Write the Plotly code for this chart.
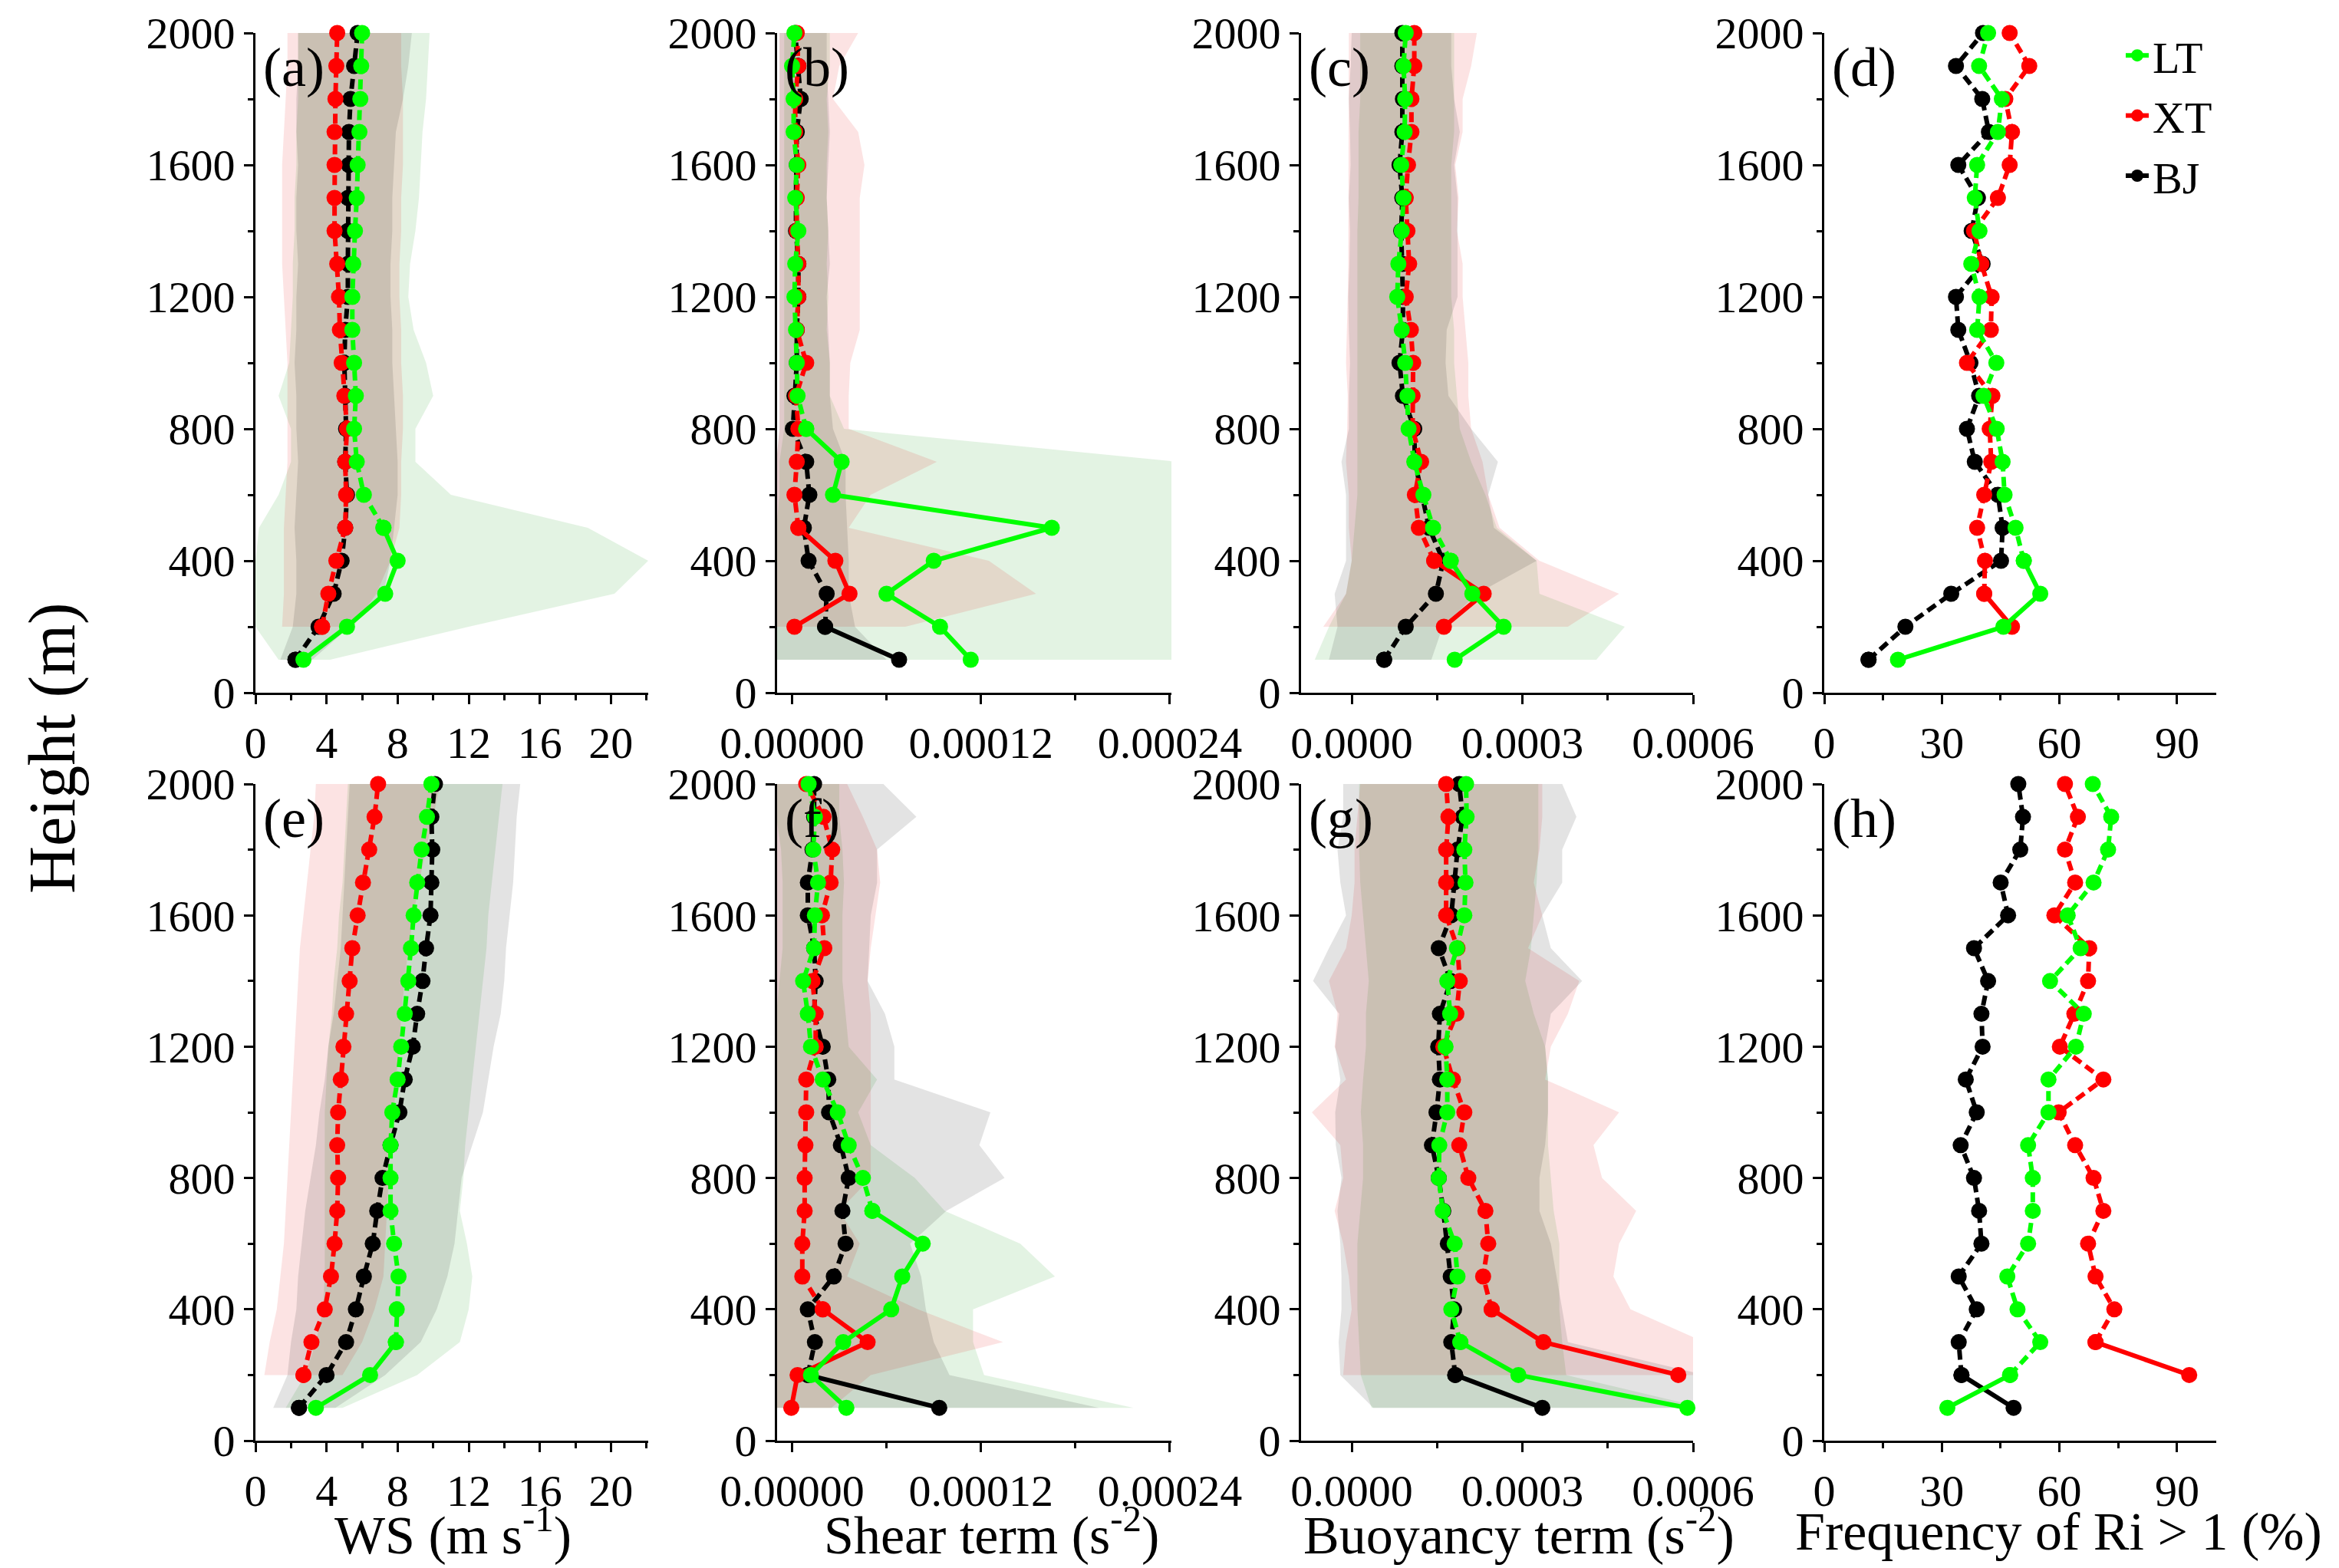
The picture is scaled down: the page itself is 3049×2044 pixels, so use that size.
import plotly.graph_objects as go

# heights of the profile levels (m)
HEIGHT = list(range(100, 2001, 100))

# ---- (a) wind speed, clean days (m/s)
A_LT = [2.7, 5.15, 7.3, 8.0, 7.2, 6.1, 5.7, 5.55, 5.65, 5.55, 5.45, 5.45, 5.5, 5.6, 5.7, 5.75, 5.85, 5.9, 5.95, 6.0]
A_XT = [None, 3.75, 4.1, 4.55, 5.05, 5.1, 5.05, 5.15, 5.0, 4.85, 4.75, 4.7, 4.6, 4.45, 4.45, 4.45, 4.45, 4.5, 4.55, 4.6]
A_BJ = [2.25, 3.55, 4.4, 4.85, 5.05, 5.15, 5.05, 5.1, 5.05, 5.0, 5.05, 5.2, 5.2, 5.2, 5.2, 5.25, 5.26, 5.35, 5.55, 5.75]
A_LT_LO = [1.3, 0.0, 0.0, 0.0, 0.2, 1.3, 2.0, 2.0, 1.3, 1.9, 2.0, 2.1, 2.1, 2.2, 2.2, 2.3, 2.3, 2.4, 2.4, 2.4]
A_LT_HI = [4.2, 12.0, 20.2, 22.1, 18.7, 11.0, 9.0, 9.0, 10.0, 9.6, 8.9, 8.6, 8.7, 9.0, 9.2, 9.3, 9.4, 9.6, 9.7, 9.8]
A_XT_LO = [None, 1.5, 1.6, 1.6, 1.6, 1.7, 1.8, 1.8, 1.8, 1.8, 1.7, 1.6, 1.5, 1.5, 1.5, 1.5, 1.6, 1.7, 1.8, 1.8]
A_XT_HI = [None, 5.5, 6.8, 7.6, 8.1, 8.2, 8.2, 8.3, 8.3, 8.2, 8.2, 8.1, 8.1, 8.2, 8.2, 8.3, 8.3, 8.3, 8.2, 8.2]
A_BJ_LO = [1.4, 2.1, 2.3, 2.3, 2.2, 2.3, 2.4, 2.3, 2.3, 2.2, 2.3, 2.3, 2.4, 2.3, 2.3, 2.4, 2.3, 2.3, 2.4, 2.4]
A_BJ_HI = [3.2, 5.3, 7.2, 7.6, 7.8, 8.0, 8.0, 7.9, 7.8, 7.7, 7.7, 7.6, 7.6, 7.7, 7.7, 7.8, 7.9, 8.3, 8.6, 8.8]

# ---- (b) shear term (1e-5 s^-2)
B_LT = [11.35, 9.4, 6.0, 9.0, 16.5, 2.6, 3.15, 0.9, 0.35, 0.3, 0.25, 0.15, 0.2, 0.4, 0.2, 0.3, 0.1, 0.1, 0.0, 0.15]
B_XT = [None, 0.15, 3.65, 2.75, 0.4, 0.15, 0.3, 0.4, 0.25, 0.9, 0.3, 0.4, 0.4, 0.3, 0.3, 0.4, 0.2, 0.2, 0.4, 0.3]
B_BJ = [6.8, 2.1, 2.2, 1.05, 0.75, 1.1, 0.9, 0.05, 0.15, 0.3, 0.3, 0.4, 0.4, 0.25, 0.25, 0.3, 0.3, 0.55, 0.4, 0.2]
B_LT_LO = [-1.5, -1.5, -1.0, -1.0, -1.0, -0.8, -0.8, -0.5, -0.5, -0.5, -0.5, -0.5, -0.5, -0.5, -0.5, -0.5, -0.5, -0.5, -0.5, -0.5]
B_LT_HI = [24.5, 24.5, 24.5, 24.5, 24.5, 24.5, 24.5, 3.3, 2.4, 2.4, 2.2, 2.3, 2.2, 2.3, 2.2, 2.2, 2.3, 2.2, 2.4, 2.4]
B_XT_LO = [None, -1.5, -1.2, -1.0, -1.0, -1.0, -1.0, -0.8, -0.8, -0.8, -0.8, -0.8, -0.8, -0.8, -0.8, -0.8, -0.8, -0.8, -0.8, -0.8]
B_XT_HI = [None, 7.2, 15.5, 12.5, 3.6, 5.0, 9.2, 3.6, 3.6, 3.7, 4.3, 4.3, 4.3, 4.3, 4.3, 4.6, 4.2, 2.6, 3.0, 4.2]
B_BJ_LO = [-1.5, -1.5, -1.2, -1.0, -1.0, -1.0, -1.0, -0.8, -0.8, -0.8, -0.8, -0.8, -0.8, -0.8, -0.8, -0.8, -0.8, -0.8, -0.8, -0.8]
B_BJ_HI = [6.0, 4.0, 3.6, 3.6, 3.5, 3.4, 3.4, 2.6, 2.4, 2.4, 2.3, 2.2, 2.4, 2.3, 2.2, 2.3, 2.4, 2.3, 2.2, 2.2]

# ---- (c) buoyancy term (1e-5 s^-2)
C_LT = [18.1, 26.7, 21.2, 17.4, 14.3, 12.6, 11.0, 10.0, 9.8, 9.4, 8.8, 8.0, 8.2, 8.8, 9.1, 8.7, 9.3, 9.4, 9.1, 9.5]
C_XT = [None, 16.2, 23.2, 14.5, 11.8, 11.1, 12.2, 10.7, 10.7, 10.8, 10.4, 9.5, 10.1, 9.8, 9.5, 9.9, 10.5, 10.5, 11.0, 11.0]
C_BJ = [5.7, 9.5, 14.8, 16.1, 13.6, 12.4, 11.1, 11.0, 9.0, 8.4, 9.0, 9.0, 8.9, 8.7, 8.9, 8.4, 8.9, 9.0, 8.9, 8.9]
C_LT_LO = [-6.5, -4.0, -1.0, 0.0, 0.5, 1.0, 1.0, 1.0, 1.0, 1.0, 1.0, 1.0, 1.0, 1.0, 1.2, 1.2, 1.2, 1.5, 1.5, 1.5]
C_LT_HI = [43.0, 48.0, 33.0, 32.5, 25.5, 23.5, 21.0, 19.0, 18.5, 18.0, 18.0, 17.5, 17.5, 17.5, 17.5, 17.5, 18.0, 18.0, 18.0, 18.0]
C_XT_LO = [None, -5.0, -1.0, 0.0, -0.5, -0.5, -1.0, -0.8, -0.7, -1.0, -0.8, -0.7, -0.6, -0.6, -0.5, -0.5, -0.6, -0.5, -0.5, -0.5]
C_XT_HI = [None, 38.0, 47.0, 33.0, 26.0, 24.0, 23.0, 21.0, 20.5, 20.5, 20.0, 19.5, 19.5, 18.5, 18.8, 18.2, 19.5, 19.5, 21.0, 22.0]
C_BJ_LO = [-4.0, -2.5, -3.0, -1.0, -1.0, -1.0, -1.8, -0.5, -0.5, -0.3, -0.5, -0.6, -0.4, -0.3, -0.5, -0.2, -0.3, -0.5, -0.2, 0.0]
C_BJ_HI = [14.0, 16.0, 22.0, 32.5, 25.0, 24.0, 25.7, 21.0, 17.0, 16.5, 16.7, 18.6, 18.6, 18.6, 18.6, 18.0, 19.0, 18.0, 17.5, 17.5]

# ---- (d) frequency of Ri > 1 (%)
D_LT = [18.8, 45.7, 55.1, 50.9, 48.8, 46.0, 45.5, 44.0, 40.6, 43.9, 39.0, 39.6, 37.5, 39.6, 38.4, 39.0, 44.3, 45.3, 39.5, 41.8]
D_XT = [None, 47.9, 40.8, 41.0, 39.0, 40.8, 42.6, 42.2, 42.9, 36.4, 42.5, 42.7, 40.1, 38.2, 44.3, 47.3, 47.9, 46.2, 52.3, 47.3]
D_BJ = [11.3, 20.7, 32.4, 45.1, 45.5, 44.3, 38.4, 36.4, 39.5, 37.3, 34.2, 33.6, 40.4, 37.6, 39.2, 34.2, 42.0, 40.3, 33.6, 40.5]

# ---- (e) wind speed, polluted days (m/s)
E_LT = [3.4, 6.45, 7.9, 7.95, 8.05, 7.8, 7.6, 7.6, 7.6, 7.7, 8.0, 8.2, 8.4, 8.6, 8.75, 8.9, 9.1, 9.35, 9.65, 9.9]
E_XT = [None, 2.7, 3.15, 3.9, 4.25, 4.45, 4.6, 4.65, 4.6, 4.65, 4.8, 4.95, 5.1, 5.3, 5.45, 5.75, 6.05, 6.4, 6.7, 6.9]
E_BJ = [2.45, 4.0, 5.1, 5.65, 6.1, 6.6, 6.85, 7.15, 7.6, 8.1, 8.4, 8.85, 9.1, 9.4, 9.6, 9.85, 9.9, 9.95, 9.9, 10.1]
E_LT_LO = [1.7, 2.8, 3.4, 3.8, 3.9, 3.9, 3.9, 3.9, 3.9, 3.9, 4.0, 4.1, 4.3, 4.4, 4.6, 4.7, 4.9, 5.0, 5.1, 5.2]
E_LT_HI = [4.9, 9.1, 11.5, 12.0, 12.2, 11.9, 11.5, 11.7, 11.8, 12.0, 12.2, 12.4, 12.6, 12.8, 13.0, 13.1, 13.3, 13.5, 13.7, 13.9]
E_XT_LO = [None, 0.5, 0.8, 1.2, 1.4, 1.6, 1.7, 1.8, 1.9, 2.0, 2.1, 2.2, 2.3, 2.4, 2.5, 2.7, 2.9, 3.1, 3.3, 3.4]
E_XT_HI = [None, 4.9, 6.0, 6.7, 7.2, 7.3, 7.4, 7.5, 7.6, 7.8, 7.9, 8.1, 8.2, 8.4, 8.6, 8.9, 9.2, 9.6, 10.0, 10.4]
E_BJ_LO = [1.0, 1.8, 2.0, 2.3, 2.4, 2.6, 2.8, 3.1, 3.4, 3.6, 3.9, 4.1, 4.4, 4.6, 4.8, 4.9, 5.0, 5.1, 5.2, 5.3]
E_BJ_HI = [4.5, 7.3, 9.3, 10.2, 10.8, 11.2, 11.4, 11.6, 12.2, 12.8, 13.1, 13.4, 13.8, 14.0, 14.1, 14.3, 14.5, 14.6, 14.7, 14.9]

# ---- (f) shear term (1e-5 s^-2)
F_LT = [3.45, 1.2, 3.25, 6.3, 7.0, 8.3, 5.1, 4.5, 3.6, 2.9, 1.95, 1.2, 1.0, 0.7, 1.4, 1.45, 1.65, 1.35, 1.45, 1.05]
F_XT = [-0.05, 0.35, 4.8, 1.95, 0.65, 0.65, 0.8, 0.8, 0.85, 0.9, 0.9, 1.5, 1.5, 1.3, 2.05, 1.9, 2.45, 2.55, 2.0, 0.9]
F_BJ = [9.35, 1.0, 1.45, 1.0, 2.65, 3.4, 3.2, 3.6, 3.1, 2.35, 2.3, 1.95, 1.4, 1.5, 1.4, 1.0, 1.0, 1.3, 1.4, 1.4]
F_LT_LO = [-1.5, -1.5, -1.2, -1.0, -1.0, -1.0, -1.0, -1.0, -1.0, -1.0, -1.0, -1.0, -1.0, -0.8, -0.6, -0.6, -0.6, -0.7, -1.0, -1.0]
F_LT_HI = [21.7, 12.2, 11.5, 11.5, 16.7, 14.5, 9.7, 7.8, 5.0, 4.2, 5.4, 3.6, 3.4, 3.2, 3.2, 3.2, 3.3, 3.2, 3.0, 3.0]
F_XT_LO = [-1.5, -1.5, -1.2, -1.2, -1.2, -1.2, -1.2, -1.2, -1.2, -1.2, -1.2, -1.2, -1.2, -1.2, -1.2, -1.2, -1.2, -1.2, -1.2, -1.2]
F_XT_HI = [2.5, 5.0, 13.4, 8.0, 3.5, 4.3, 3.0, 5.0, 5.0, 5.0, 5.0, 5.0, 5.0, 4.8, 5.0, 5.3, 5.6, 5.4, 4.5, 3.5]
F_BJ_LO = [-1.5, -1.5, -1.2, -1.2, -1.2, -1.2, -1.2, -1.2, -1.2, -1.2, -1.2, -1.2, -1.2, -1.2, -1.2, -1.2, -1.2, -1.2, -1.2, -1.2]
F_BJ_HI = [19.5, 10.0, 9.0, 8.5, 8.2, 7.5, 9.8, 13.5, 11.9, 12.6, 6.5, 6.5, 5.9, 4.8, 4.9, 5.0, 5.4, 5.4, 7.9, 5.8]

# ---- (g) buoyancy term (1e-5 s^-2)
G_LT = [59.0, 29.3, 19.1, 17.5, 18.6, 18.1, 16.0, 15.3, 15.4, 16.8, 16.8, 16.5, 17.3, 16.8, 18.5, 19.8, 20.0, 19.8, 20.2, 20.1]
G_XT = [None, 57.4, 33.7, 24.6, 23.1, 24.0, 23.5, 20.5, 18.9, 19.8, 17.8, 16.1, 18.4, 19.0, 18.6, 16.6, 16.6, 16.6, 17.0, 16.6]
G_BJ = [33.5, 18.2, 17.5, 18.0, 17.4, 16.9, 16.1, 15.3, 14.1, 14.9, 15.5, 15.2, 15.5, 17.4, 15.3, 17.5, 18.0, 18.6, 19.5, 18.9]
G_LT_LO = [3.5, 1.6, 1.3, 1.0, 1.0, 1.0, 1.5, 2.0, 2.0, 1.6, 2.0, 2.5, 2.5, 3.0, 2.5, 2.0, 1.5, 1.3, 1.3, 1.3]
G_LT_HI = [62.0, 37.7, 37.0, 36.5, 36.5, 36.5, 35.5, 35.0, 34.5, 34.5, 34.5, 34.0, 32.0, 30.5, 31.5, 32.0, 32.5, 32.8, 32.8, 32.8]
G_XT_LO = [None, -1.5, -1.0, 0.0, -0.5, -1.5, -3.0, -1.5, -2.0, -7.0, -1.0, -3.0, -2.5, -4.0, -1.0, 0.0, 0.5, 0.5, 1.0, 1.5]
G_XT_HI = [None, 62.0, 62.0, 49.0, 46.0, 47.0, 50.0, 44.0, 42.5, 47.0, 34.0, 35.0, 38.0, 40.0, 31.0, 33.5, 32.0, 33.0, 33.5, 33.5]
G_BJ_LO = [3.8, -2.0, -2.3, -1.8, -1.8, -2.0, -2.5, -1.8, -2.8, -2.9, -2.0, -2.9, -2.2, -6.8, -4.0, -1.0, -2.0, -2.5, -1.5, -1.5]
G_BJ_HI = [62.0, 62.0, 38.0, 37.0, 36.0, 35.0, 33.0, 33.0, 34.0, 34.5, 34.5, 34.0, 35.0, 40.5, 35.0, 33.5, 37.0, 37.0, 39.5, 37.0]

# ---- (h) frequency of Ri > 1 (%)
H_LT = [31.4, 47.4, 55.1, 49.3, 46.7, 52.0, 53.2, 53.2, 52.0, 57.2, 57.2, 64.2, 66.2, 57.6, 65.4, 62.1, 68.7, 72.4, 73.2, 68.5]
H_XT = [None, 93.1, 69.2, 74.0, 69.2, 67.3, 71.2, 68.7, 64.0, 59.8, 71.2, 60.1, 63.8, 67.3, 67.6, 58.7, 64.0, 61.4, 64.7, 61.4]
H_BJ = [48.3, 35.0, 34.3, 38.9, 34.3, 40.1, 39.5, 38.2, 34.8, 38.9, 36.1, 40.4, 40.1, 41.8, 38.2, 46.9, 45.0, 50.0, 50.7, 49.5]

SITES = ["BJ", "XT", "LT"]   # drawing order (LT on top)
LINE_COLOR = {"LT": "#00FF00", "XT": "#FF0000", "BJ": "#000000"}
BAND_COLOR = {"LT": "rgba(0,150,0,0.11)", "XT": "rgba(225,0,0,0.11)", "BJ": "rgba(0,0,0,0.11)"}
FONT = "Liberation Serif"
E5 = 1e-5

PANELS = [
    dict(tag="(a)", kind="ws", scale=1, data=dict(LT=A_LT, XT=A_XT, BJ=A_BJ),
         bands=dict(LT=(A_LT_LO, A_LT_HI), XT=(A_XT_LO, A_XT_HI), BJ=(A_BJ_LO, A_BJ_HI)),
         solid=dict(LT=500, XT=200, BJ=100)),
    dict(tag="(b)", kind="shear", scale=E5, data=dict(LT=B_LT, XT=B_XT, BJ=B_BJ),
         bands=dict(LT=(B_LT_LO, B_LT_HI), XT=(B_XT_LO, B_XT_HI), BJ=(B_BJ_LO, B_BJ_HI)),
         solid=dict(LT=800, XT=500, BJ=200)),
    dict(tag="(c)", kind="buoy", scale=E5, data=dict(LT=C_LT, XT=C_XT, BJ=C_BJ),
         bands=dict(LT=(C_LT_LO, C_LT_HI), XT=(C_XT_LO, C_XT_HI), BJ=(C_BJ_LO, C_BJ_HI)),
         solid=dict(LT=400, XT=400, BJ=100)),
    dict(tag="(d)", kind="freq", scale=1, data=dict(LT=D_LT, XT=D_XT, BJ=D_BJ),
         bands={}, solid=dict(LT=400, XT=300, BJ=100)),
    dict(tag="(e)", kind="ws", scale=1, data=dict(LT=E_LT, XT=E_XT, BJ=E_BJ),
         bands=dict(LT=(E_LT_LO, E_LT_HI), XT=(E_XT_LO, E_XT_HI), BJ=(E_BJ_LO, E_BJ_HI)),
         solid=dict(LT=300, XT=200, BJ=100)),
    dict(tag="(f)", kind="shear", scale=E5, data=dict(LT=F_LT, XT=F_XT, BJ=F_BJ),
         bands=dict(LT=(F_LT_LO, F_LT_HI), XT=(F_XT_LO, F_XT_HI), BJ=(F_BJ_LO, F_BJ_HI)),
         solid=dict(LT=700, XT=400, BJ=200)),
    dict(tag="(g)", kind="buoy", scale=E5, data=dict(LT=G_LT, XT=G_XT, BJ=G_BJ),
         bands=dict(LT=(G_LT_LO, G_LT_HI), XT=(G_XT_LO, G_XT_HI), BJ=(G_BJ_LO, G_BJ_HI)),
         solid=dict(LT=300, XT=400, BJ=200)),
    dict(tag="(h)", kind="freq", scale=1, data=dict(LT=H_LT, XT=H_XT, BJ=H_BJ),
         bands={}, solid=dict(LT=200, XT=300, BJ=200)),
]

X_AXES = {
    "ws": dict(range=[0, 22.1], tick0=0, dtick=4, minor=dict(dtick=2)),
    "shear": dict(range=[-0.0000095, 0.000241], tick0=0, dtick=0.00012, tickformat=".5f",
                  minor=dict(tick0=0, dtick=0.00006)),
    "buoy": dict(range=[-0.000089, 0.0006], tick0=0, dtick=0.0003, tickformat=".4f",
                 minor=dict(tick0=0, dtick=0.00015)),
    "freq": dict(range=[0, 100], tick0=0, dtick=30, minor=dict(dtick=15)),
}

X_TITLES = ["WS (m s<sup>-1</sup>)", "Shear term (s<sup>-2</sup>)",
            "Buoyancy term (s<sup>-2</sup>)", "Frequency of Ri &gt; 1 (%)"]

# page layout in pixels
W, H = 3049, 2044
COL_LEFT = [325, 1005, 1688, 2370]
COL_RIGHT = [837, 1519, 2199, 2881]
ROW_TOP = [35, 1014]
ROW_BOTTOM = [895, 1870]
TITLE_X = [582, 1284, 1972, 2675]

fig = go.Figure()
layout = dict(width=W, height=H, margin=dict(l=0, r=0, t=0, b=0, autoexpand=False),
              paper_bgcolor="white", plot_bgcolor="rgba(0,0,0,0)",
              font=dict(family=FONT, size=58, color="black"))
annotations = []

axis_common = dict(showline=True, linecolor="black", linewidth=3, mirror=False,
                   showgrid=False, zeroline=False, ticks="outside", ticklen=12,
                   tickwidth=3, tickcolor="black", automargin=False,
                   tickfont=dict(family=FONT, size=58, color="black"))

for i, p in enumerate(PANELS):
    n = i + 1
    row, col = divmod(i, 4)
    xa = "x" if n == 1 else f"x{n}"
    ya = "y" if n == 1 else f"y{n}"
    xname = "xaxis" if n == 1 else f"xaxis{n}"
    yname = "yaxis" if n == 1 else f"yaxis{n}"

    xcfg = dict(axis_common)
    xcfg.update(X_AXES[p["kind"]])
    xcfg["minor"] = dict(xcfg["minor"], ticks="outside", ticklen=7, tickwidth=3, tickcolor="black")
    xcfg.update(domain=[COL_LEFT[col] / W, COL_RIGHT[col] / W], anchor=ya, tickmode="linear")
    layout[xname] = xcfg

    ycfg = dict(axis_common)
    ycfg.update(range=[0, 2000], tickmode="linear", tick0=0, dtick=400,
                minor=dict(dtick=200, ticks="outside", ticklen=7, tickwidth=3, tickcolor="black"),
                domain=[1 - ROW_BOTTOM[row] / H, 1 - ROW_TOP[row] / H], anchor=xa)
    layout[yname] = ycfg

    s = p["scale"]
    # shaded spread bands
    for site in ["LT", "XT", "BJ"]:
        if site not in p["bands"]:
            continue
        lo, hi = p["bands"][site]
        pts = [(h, a, b) for h, a, b in zip(HEIGHT, lo, hi) if a is not None]
        hs = [q[0] for q in pts]
        xs = [q[1] * s for q in pts] + [q[2] * s for q in pts][::-1]
        fig.add_trace(go.Scatter(x=xs, y=hs + hs[::-1], xaxis=xa, yaxis=ya,
                                 mode="lines", fill="toself", fillcolor=BAND_COLOR[site],
                                 line=dict(width=0), hoverinfo="skip", showlegend=False))

    # mean profiles: solid near the ground, dashed above
    for site in SITES:
        vals = p["data"][site]
        pts = [(v * s, h) for v, h in zip(vals, HEIGHT) if v is not None]
        split = p["solid"][site]
        low = [q for q in pts if q[1] <= split]
        up = [q for q in pts if q[1] >= split]
        style = dict(color=LINE_COLOR[site], width=6)
        mk = dict(size=21, color=LINE_COLOR[site], line=dict(width=0))
        fig.add_trace(go.Scatter(x=[q[0] for q in low], y=[q[1] for q in low], xaxis=xa, yaxis=ya,
                                 mode="lines+markers", line=style, marker=mk, name=site,
                                 legendgroup=site, showlegend=(n == 4), cliponaxis=False))
        fig.add_trace(go.Scatter(x=[q[0] for q in up], y=[q[1] for q in up], xaxis=xa, yaxis=ya,
                                 mode="lines+markers", line=dict(style, dash="13px,7px"), marker=mk,
                                 name=site, legendgroup=site, showlegend=False, cliponaxis=False))

    annotations.append(dict(text=p["tag"], xref="paper", yref="paper",
                            x=(COL_LEFT[col] + 8) / W, y=1 - (ROW_TOP[row] + 45) / H,
                            xanchor="left", yanchor="middle", showarrow=False,
                            font=dict(family=FONT, size=72, color="black")))

for col in range(4):
    annotations.append(dict(text=X_TITLES[col], xref="paper", yref="paper",
                            x=TITLE_X[col] / W, y=1 - 1988 / H, xanchor="center", yanchor="middle",
                            showarrow=False, font=dict(family=FONT, size=70, color="black")))

annotations.append(dict(text="Height (m)", xref="paper", yref="paper", x=60 / W, y=1 - 967 / H,
                        textangle=-90, xanchor="center", yanchor="middle", showarrow=False,
                        font=dict(family=FONT, size=86, color="black")))

layout["annotations"] = annotations
layout["legend"] = dict(x=2758 / W, y=1 - 20 / H, xanchor="left", yanchor="top",
                        traceorder="reversed", bgcolor="rgba(0,0,0,0)", tracegroupgap=0,
                        font=dict(family=FONT, size=58, color="black"))
fig.update_layout(**layout)

fig.write_html("out.html")
